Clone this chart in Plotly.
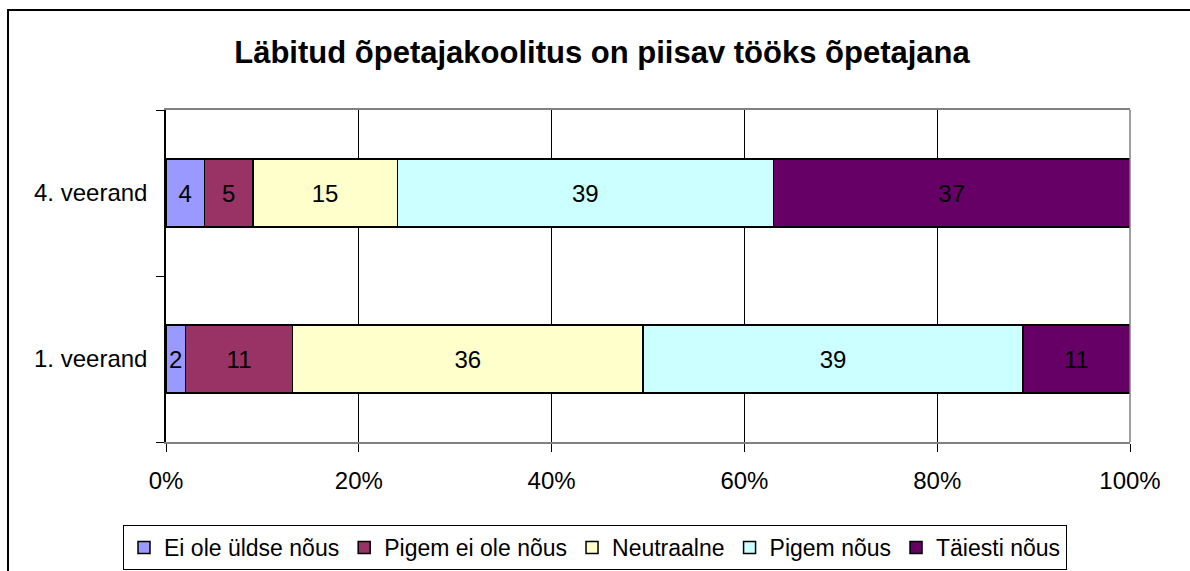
import plotly.graph_objects as go

categories = ["1. veerand", "4. veerand"]
series_names = ["Ei ole üldse nõus", "Pigem ei ole nõus", "Neutraalne", "Pigem nõus", "Täiesti nõus"]
ei_ole_uldse = [2, 4]
pigem_ei_ole = [11, 5]
neutraalne = [36, 15]
pigem_nous = [39, 39]
taiesti_nous = [11, 37]
colors = ["#9999FF", "#993366", "#FFFFCC", "#CCFFFF", "#660066"]
title_text = "Läbitud õpetajakoolitus on piisav tööks õpetajana"

series_values = [ei_ole_uldse, pigem_ei_ole, neutraalne, pigem_nous, taiesti_nous]

W, H = 1190, 571
L, R, T, B = 166, 1130, 110, 442
FONT = "Liberation Sans, Arial"

fig = go.Figure()
for name, vals, col in zip(series_names, series_values, colors):
    fig.add_trace(go.Bar(
        y=categories, x=vals, name=name, orientation="h",
        marker=dict(color=col, line=dict(color="black", width=1.5)),
        text=[str(v) for v in vals], textposition="inside",
        insidetextanchor="middle", textangle=0,
        textfont=dict(color="black", size=24, family=FONT),
    ))

pw = R - L
ph = B - T
def px_x(x):
    return (x - L) / pw
def px_y(y):
    return (B - y) / ph

fig.update_layout(
    width=W, height=H,
    barmode="stack", barnorm="percent", bargap=0.59,
    paper_bgcolor="white", plot_bgcolor="white",
    margin=dict(l=L, r=W - R, t=T, b=H - B, autoexpand=False),
    font=dict(family=FONT, size=24, color="black"),
    title=dict(text="<b>" + title_text + "</b>", font=dict(size=31, color="black"),
               x=602 / W, xref="container", xanchor="center",
               y=1 - 52 / H, yref="container", yanchor="middle"),
    uniformtext=dict(minsize=24, mode="show"),
    legend=dict(orientation="h", xref="container", x=595 / W, xanchor="center",
                yref="container", y=1 - 525 / H, yanchor="top",
                bordercolor="#000000", borderwidth=1, bgcolor="white",
                font=dict(size=23), traceorder="normal",
                itemwidth=30, tracegroupgap=0),
    showlegend=True,
)
fig.update_xaxes(range=[0, 100], dtick=20, ticksuffix="%", showgrid=True,
                 gridcolor="black", gridwidth=1, showline=True, linecolor="#808080",
                 linewidth=1.5, mirror=True, ticks="outside", ticklen=8,
                 tickcolor="black", zeroline=False, fixedrange=True,
                 ticklabelstandoff=8, tickfont=dict(size=24))
fig.update_yaxes(categoryorder="array", categoryarray=categories,
                 showline=True, linecolor="black", linewidth=1.5,
                 ticks="outside", tickson="boundaries", ticklen=8, tickcolor="black",
                 ticklabelstandoff=12,
                 showgrid=False, tickfont=dict(size=24), fixedrange=True)

# right border of plot area (gray)
fig.add_shape(type="line", xref="paper", yref="paper", x0=1, x1=1, y0=0, y1=1,
              line=dict(color="#808080", width=1.5))
# outer chart frame
fig.add_shape(type="rect", xref="paper", yref="paper",
              x0=px_x(8), x1=px_x(1205), y0=px_y(590), y1=px_y(10),
              line=dict(color="black", width=2), fillcolor="rgba(0,0,0,0)", layer="above")

fig.write_html("out.html", config={"displayModeBar": False},
               post_script="document.body.style.margin='0';")
